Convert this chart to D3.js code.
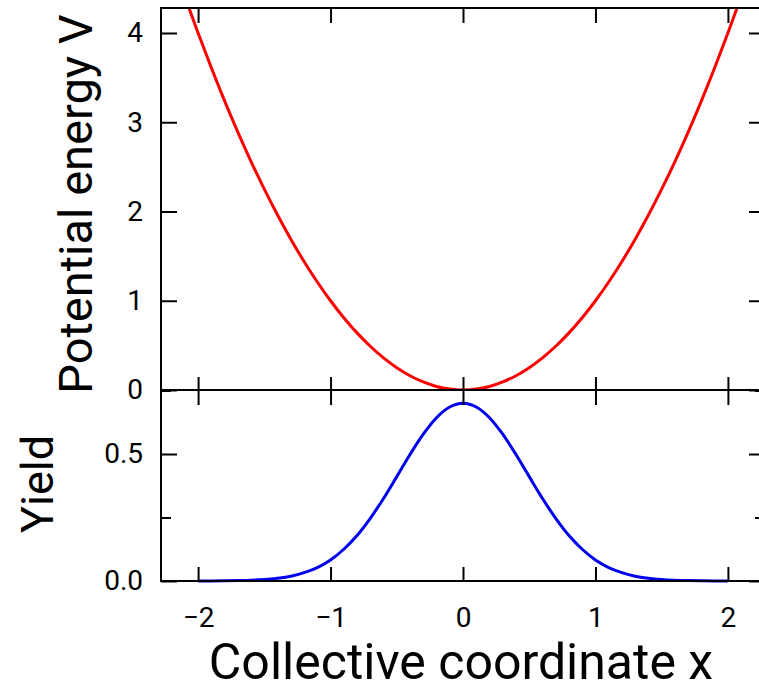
<!DOCTYPE html>
<html>
<head>
<meta charset="utf-8">
<script src="https://cdn.jsdelivr.net/npm/d3@7"></script>
<style>
  body { margin: 0; background: #fff; }
  text { font-family: Roboto, "DejaVu Sans", sans-serif; fill: #000; }
</style>
</head>
<body>
<div id="chart"></div>
<script>
// potential curve
const potX = [-2.1, -2.0, -1.9, -1.8, -1.7, -1.6, -1.5, -1.4, -1.3, -1.2, -1.1, -1.0, -0.9, -0.8, -0.7, -0.6, -0.5, -0.4, -0.3, -0.2, -0.1,
  0, 0.1, 0.2, 0.3, 0.4, 0.5, 0.6, 0.7, 0.8, 0.9, 1.0, 1.1, 1.2, 1.3, 1.4, 1.5, 1.6, 1.7, 1.8, 1.9, 2.0, 2.1]
const potV = [4.41, 4.00, 3.61, 3.24, 2.89, 2.56, 2.25, 1.96, 1.69, 1.44, 1.21, 1.00, 0.81, 0.64, 0.49, 0.36, 0.25, 0.16, 0.09, 0.04, 0.01,
  0, 0.01, 0.04, 0.09, 0.16, 0.25, 0.36, 0.49, 0.64, 0.81, 1.00, 1.21, 1.44, 1.69, 1.96, 2.25, 2.56, 2.89, 3.24, 3.61, 4.00, 4.41]

// yield curve
const yieldX = [-2.0, -1.9, -1.8, -1.7, -1.6, -1.5, -1.4, -1.3, -1.2, -1.1, -1.0, -0.9, -0.8, -0.7, -0.6, -0.5, -0.4, -0.3, -0.2, -0.1,
  0, 0.1, 0.2, 0.3, 0.4, 0.5, 0.6, 0.7, 0.8, 0.9, 1.0, 1.1, 1.2, 1.3, 1.4, 1.5, 1.6, 1.7, 1.8, 1.9, 2.0]
const yieldY = [0.000, 0.0003, 0.0007, 0.0015, 0.003, 0.006, 0.011, 0.019, 0.033, 0.053, 0.083, 0.125, 0.179, 0.247, 0.325, 0.411, 0.498, 0.578, 0.643, 0.685,
  0.700, 0.685, 0.643, 0.578, 0.498, 0.411, 0.325, 0.247, 0.179, 0.125, 0.083, 0.053, 0.033, 0.019, 0.011, 0.006, 0.003, 0.0015, 0.0007, 0.0003, 0.000]

// ticks
const xTicks = [-2, -1, 0, 1, 2]
const vTicks = [0, 1, 2, 3, 4]
const yieldTicks = [0, 0.5]
const yieldMinor = [0.25, 0.75]

const W = 759, H = 685
// panel edges (the right edge sits just outside the window)
const pLeft = 161, pRight = 765, pTop = 8, pMid = 390, pBottom = 581

let svg = d3.select("#chart")
  .append("svg")
  .attr("width", W)
  .attr("height", H)

let x = d3.scaleLinear().domain([-2.28, 2.28]).range([pLeft, pRight])
let yV = d3.scaleLinear().domain([0, 4.28]).range([pMid, pTop])
let yY = d3.scaleLinear().domain([0, 0.752]).range([pBottom, pMid])

// clip for the upper panel
svg.append("clipPath").attr("id", "clipTop")
  .append("rect")
  .attr("x", pLeft).attr("y", pTop)
  .attr("width", pRight - pLeft).attr("height", pMid - pTop)

let potData = potX.map((d, i) => [d, potV[i]])
let yieldData = yieldX.map((d, i) => [d, yieldY[i]])

svg.append("path")
  .datum(potData)
  .attr("clip-path", "url(#clipTop)")
  .attr("fill", "none")
  .attr("stroke", "#ff0000")
  .attr("stroke-width", 3)
  .attr("d", d3.line().x(d => x(d[0])).y(d => yV(d[1])).curve(d3.curveCatmullRom))

svg.append("path")
  .datum(yieldData)
  .attr("fill", "none")
  .attr("stroke", "#0000ee")
  .attr("stroke-width", 3)
  .attr("d", d3.line().x(d => x(d[0])).y(d => yY(d[1])).curve(d3.curveMonotoneX))

// axes helper: strip the domain and style ticks
function styleAxis(g){
  g.select(".domain").remove()
  g.selectAll(".tick line").attr("stroke", "#000").attr("stroke-width", 2)
  g.selectAll(".tick text").style("font-size", "28px").attr("fill", "#000")
}

// upper panel
svg.append("g").attr("transform", `translate(${pLeft},0)`)
  .call(d3.axisLeft(yV).tickValues(vTicks).tickSize(-16).tickPadding(18).tickFormat(d3.format("d")))
  .call(styleAxis)
svg.append("g").attr("transform", `translate(${pRight},0)`)
  .call(d3.axisRight(yV).tickValues(vTicks).tickSize(-16).tickFormat(""))
  .call(styleAxis)
svg.append("g").attr("transform", `translate(0,${pTop})`)
  .call(d3.axisTop(x).tickValues(xTicks).tickSize(-15).tickFormat(""))
  .call(styleAxis)
svg.append("g").attr("transform", `translate(0,${pMid})`)
  .call(d3.axisBottom(x).tickValues(xTicks).tickSize(-13).tickFormat(""))
  .call(styleAxis)

// lower panel
svg.append("g").attr("transform", `translate(${pLeft},0)`)
  .call(d3.axisLeft(yY).tickValues(yieldTicks).tickSize(-16).tickPadding(18).tickFormat(d3.format(".1f")))
  .call(styleAxis)
svg.append("g").attr("transform", `translate(${pLeft},0)`)
  .call(d3.axisLeft(yY).tickValues(yieldMinor).tickSize(-10).tickFormat(""))
  .call(styleAxis)
svg.append("g").attr("transform", `translate(${pRight},0)`)
  .call(d3.axisRight(yY).tickValues(yieldTicks).tickSize(-16).tickFormat(""))
  .call(styleAxis)
svg.append("g").attr("transform", `translate(${pRight},0)`)
  .call(d3.axisRight(yY).tickValues(yieldMinor).tickSize(-10).tickFormat(""))
  .call(styleAxis)
svg.append("g").attr("transform", `translate(0,${pMid})`)
  .call(d3.axisTop(x).tickValues(xTicks).tickSize(-15).tickFormat(""))
  .call(styleAxis)
svg.append("g").attr("transform", `translate(0,${pBottom})`)
  .call(d3.axisBottom(x).tickValues(xTicks).tickSize(-14).tickPadding(26).tickFormat(d3.format("d")))
  .call(styleAxis)

// frame
let frame = svg.append("g").attr("stroke", "#000").attr("stroke-width", 2).attr("fill", "none")
frame.append("rect").attr("x", pLeft).attr("y", pTop).attr("width", pRight - pLeft).attr("height", pBottom - pTop)
frame.append("line").attr("x1", pLeft).attr("x2", pRight).attr("y1", pMid).attr("y2", pMid)

// titles
svg.append("text")
  .attr("transform", "translate(92,204) rotate(-90)")
  .attr("text-anchor", "middle")
  .style("font-size", "47px")
  .text("Potential energy V")

svg.append("text")
  .attr("transform", "translate(53,484) rotate(-90)")
  .attr("text-anchor", "middle")
  .style("font-size", "45px")
  .text("Yield")

svg.append("text")
  .attr("x", 461)
  .attr("y", 679)
  .attr("text-anchor", "middle")
  .style("font-size", "50px")
  .text("Collective coordinate x")
</script>
</body>
</html>
